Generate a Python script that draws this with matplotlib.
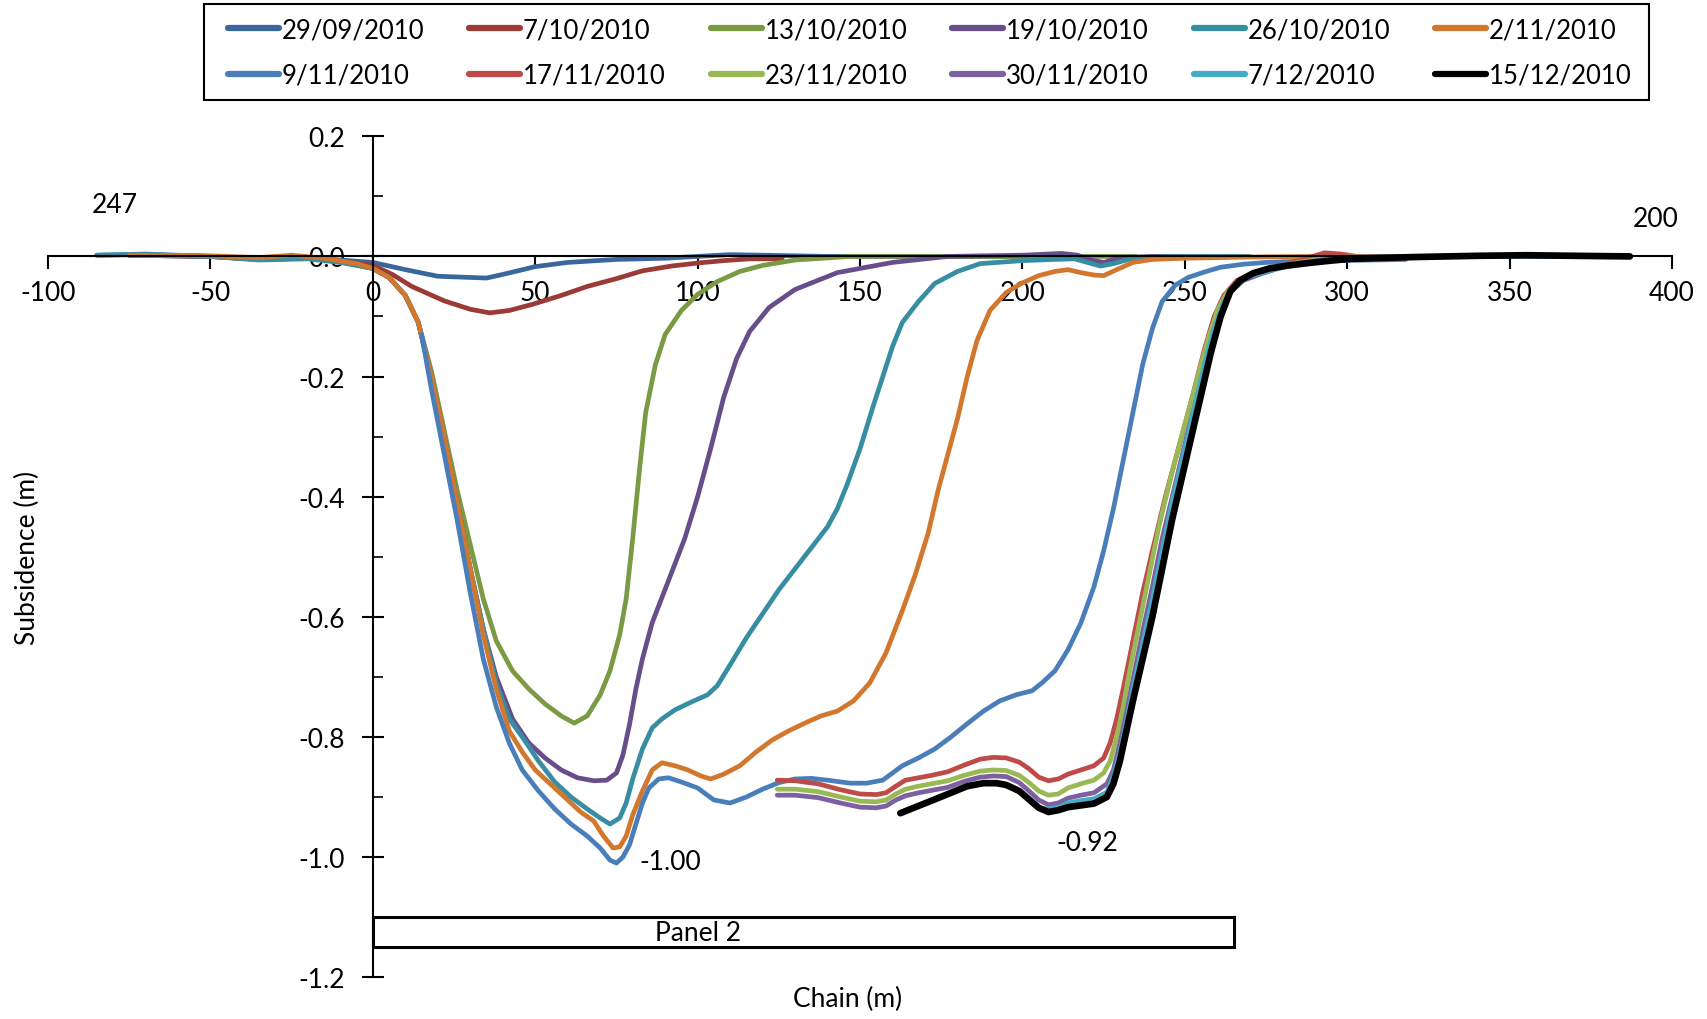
import matplotlib.pyplot as plt
from matplotlib.patches import Rectangle

plt.rcParams["font.family"] = ["Lato", "DejaVu Sans"]

labels = ["29/09/2010", "7/10/2010", "13/10/2010", "19/10/2010", "26/10/2010", "2/11/2010",
          "9/11/2010", "17/11/2010", "23/11/2010", "30/11/2010", "7/12/2010", "15/12/2010"]
colors = ["#3A669E", "#9C3A37", "#7A9A44", "#674E8A", "#378EA3", "#D2772E",
          "#4A7EBB", "#BE4B48", "#98B954", "#7D60A0", "#46AAC5", "#000000"]

# (chain, subsidence) pairs
s_2909 = [(-85, 0.002), (-70, 0.003), (-50, 0.0), (-35, -0.004), (-20, -0.002), (-10, -0.006),
          (0, -0.01), (10, -0.022), (20, -0.033), (30, -0.035), (35, -0.036), (40, -0.03),
          (50, -0.017), (60, -0.01), (75, -0.005), (90, -0.003), (110, 0.003), (120, 0.002),
          (140, 0.0), (170, 0.0), (200, 0.0)]
s_0710 = [(-75, 0.002), (-50, 0.0), (-35, -0.005), (-20, -0.003), (-10, -0.008), (0, -0.015),
          (6, -0.03), (12, -0.05), (22, -0.074), (30, -0.088), (36, -0.094), (42, -0.09),
          (49, -0.08), (58, -0.065), (66, -0.05), (75, -0.037), (83, -0.024), (92, -0.016),
          (100, -0.011), (108, -0.007), (116, -0.004), (126, -0.004)]
s_1310 = [(-75, 0.002), (-50, 0.0), (-35, -0.005), (-20, -0.003), (-10, -0.008), (0, -0.02),
          (5, -0.035), (10, -0.065), (14, -0.11), (18, -0.19), (22, -0.29), (26, -0.39),
          (30, -0.48), (34, -0.57), (38, -0.64), (43, -0.69), (48, -0.72), (53, -0.745),
          (58, -0.765), (62, -0.777), (66, -0.765), (70, -0.73), (73, -0.69), (76, -0.63),
          (78, -0.57), (80, -0.47), (82, -0.36), (84, -0.26), (87, -0.18), (90, -0.13),
          (95, -0.09), (100, -0.063), (106, -0.042), (113, -0.025), (120, -0.015),
          (130, -0.006), (147, 0.0), (170, 0.0), (200, 0.0), (235, 0.0)]
s_1910 = [(-75, 0.002), (-50, 0.0), (-35, -0.005), (-20, -0.003), (-10, -0.008), (0, -0.02),
          (5, -0.035), (10, -0.065), (14, -0.11), (18, -0.2), (22, -0.3), (26, -0.41),
          (30, -0.52), (34, -0.62), (38, -0.7), (43, -0.77), (48, -0.81), (53, -0.835),
          (58, -0.855), (63, -0.868), (68, -0.873), (72, -0.872), (75, -0.86), (77, -0.83),
          (79, -0.78), (81, -0.72), (83, -0.67), (86, -0.61), (91, -0.54), (96, -0.47),
          (100, -0.4), (104, -0.32), (108, -0.235), (112, -0.17), (116, -0.125),
          (122, -0.085), (130, -0.055), (143, -0.027), (160, -0.01), (177, 0.0), (200, 0.002),
          (212, 0.005), (217, 0.002), (221, -0.006), (225, -0.01), (230, -0.002), (240, 0.0),
          (250, 0.0)]
s_2610 = [(-85, 0.002), (-70, 0.004), (-50, 0.0), (-35, -0.006), (-20, -0.004), (-10, -0.01),
          (0, -0.02), (5, -0.035), (10, -0.065), (14, -0.11), (18, -0.2), (22, -0.3),
          (26, -0.41), (30, -0.52), (34, -0.62), (38, -0.71), (42, -0.77), (46, -0.8),
          (51, -0.84), (56, -0.875), (61, -0.9), (66, -0.92), (70, -0.935), (73, -0.945),
          (76, -0.935), (78, -0.91), (80, -0.87), (83, -0.82), (86, -0.785), (89, -0.77),
          (93, -0.755), (98, -0.742), (103, -0.73), (106, -0.715), (110, -0.68),
          (115, -0.635), (120, -0.595), (125, -0.555), (130, -0.52), (135, -0.485),
          (140, -0.45), (143, -0.42), (146, -0.38), (150, -0.32), (154, -0.25), (157, -0.2),
          (160, -0.15), (163, -0.11), (168, -0.075), (173, -0.045), (180, -0.025),
          (187, -0.012), (200, -0.007), (210, -0.005), (216, -0.004), (220, -0.01),
          (224, -0.016), (228, -0.012), (234, -0.003), (245, 0.0), (270, 0.0)]
s_0211 = [(-75, 0.002), (-50, 0.001), (-35, -0.002), (-25, 0.002), (-15, -0.003), (-5, -0.012),
          (0, -0.02), (5, -0.035), (10, -0.065), (14, -0.11), (18, -0.2), (22, -0.3),
          (26, -0.41), (30, -0.52), (34, -0.63), (38, -0.72), (42, -0.79), (46, -0.825),
          (50, -0.855), (55, -0.88), (60, -0.905), (64, -0.925), (68, -0.94), (71, -0.965),
          (74, -0.985), (76, -0.983), (78, -0.965), (80, -0.93), (83, -0.89), (86, -0.855),
          (89, -0.843), (93, -0.848), (97, -0.855), (101, -0.865), (104, -0.87),
          (108, -0.862), (113, -0.848), (118, -0.825), (123, -0.805), (128, -0.79),
          (133, -0.777), (138, -0.765), (143, -0.757), (148, -0.74), (153, -0.71),
          (158, -0.66), (163, -0.59), (167, -0.53), (171, -0.46), (174, -0.39), (177, -0.33),
          (180, -0.27), (183, -0.2), (186, -0.14), (190, -0.09), (195, -0.06), (200, -0.044),
          (205, -0.032), (210, -0.025), (214, -0.022), (218, -0.027), (222, -0.031),
          (225, -0.032), (229, -0.022), (234, -0.01), (240, -0.005), (250, -0.003),
          (270, -0.001), (290, 0.0), (300, 0.0)]
s_0911 = [(15, -0.13), (18, -0.22), (22, -0.33), (26, -0.44), (30, -0.56), (34, -0.67),
          (38, -0.75), (42, -0.81), (46, -0.855), (51, -0.89), (56, -0.92), (61, -0.945),
          (66, -0.965), (70, -0.985), (73, -1.005), (75, -1.01), (77, -1.0), (79, -0.98),
          (81, -0.945), (83, -0.91), (85, -0.885), (88, -0.87), (91, -0.868), (95, -0.875),
          (100, -0.885), (105, -0.905), (110, -0.91), (115, -0.9), (120, -0.887),
          (125, -0.876), (130, -0.87), (135, -0.869), (140, -0.872), (147, -0.877),
          (152, -0.877), (157, -0.872), (160, -0.86), (163, -0.848), (168, -0.835),
          (173, -0.82), (178, -0.8), (183, -0.778), (188, -0.757), (193, -0.74),
          (198, -0.73), (203, -0.723), (206, -0.71), (210, -0.69), (214, -0.655),
          (218, -0.61), (222, -0.55), (225, -0.49), (228, -0.42), (231, -0.34), (234, -0.26),
          (237, -0.18), (240, -0.12), (243, -0.075), (247, -0.048), (251, -0.035),
          (256, -0.026), (261, -0.018), (268, -0.013), (275, -0.01), (285, -0.008),
          (298, -0.007), (318, -0.005)]
s_1711 = [(124.5, -0.872), (130, -0.873), (137, -0.878), (144, -0.888), (150, -0.895),
          (155, -0.896), (158, -0.893), (161, -0.882), (164, -0.872), (168, -0.868),
          (172, -0.864), (177, -0.858), (182, -0.847), (187, -0.837), (191, -0.834),
          (195, -0.835), (199, -0.842), (202, -0.853), (205, -0.867), (208, -0.873),
          (211, -0.87), (214, -0.862), (218, -0.855), (222, -0.848), (225, -0.835),
          (227, -0.81), (229, -0.77), (231, -0.72), (234, -0.64), (237, -0.56), (240, -0.49),
          (244, -0.4), (248, -0.32), (252, -0.24), (256, -0.155), (259, -0.1), (262, -0.065),
          (266, -0.04), (270, -0.03), (276, -0.021), (282, -0.012), (288, -0.002),
          (293, 0.006), (298, 0.004), (303, 0.0), (320, 0.0), (350, 0.0), (387, 0.0)]
s_2311 = [(124.5, -0.887), (130, -0.887), (137, -0.891), (144, -0.9), (150, -0.907),
          (155, -0.908), (158, -0.905), (161, -0.895), (164, -0.887), (168, -0.882),
          (172, -0.878), (177, -0.873), (182, -0.864), (187, -0.857), (191, -0.855),
          (195, -0.856), (199, -0.864), (202, -0.876), (205, -0.89), (208, -0.897),
          (211, -0.895), (214, -0.885), (218, -0.878), (222, -0.872), (225, -0.86),
          (227, -0.84), (229, -0.8), (231, -0.75), (233, -0.69), (236, -0.61), (239, -0.53),
          (242, -0.45), (246, -0.36), (250, -0.28), (254, -0.2), (257, -0.14), (260, -0.09),
          (263, -0.06), (267, -0.04), (272, -0.028), (278, -0.018), (285, -0.01),
          (292, -0.004), (300, -0.001), (320, 0.0), (350, 0.0), (387, 0.0)]
s_3011 = [(124.5, -0.897), (130, -0.897), (137, -0.901), (144, -0.91), (150, -0.917),
          (155, -0.918), (158, -0.915), (161, -0.905), (164, -0.898), (168, -0.893),
          (172, -0.889), (177, -0.884), (182, -0.874), (187, -0.867), (191, -0.865),
          (195, -0.866), (199, -0.876), (202, -0.89), (205, -0.905), (208, -0.913),
          (211, -0.91), (214, -0.902), (218, -0.897), (222, -0.893), (226, -0.878),
          (228, -0.855), (230, -0.81), (232, -0.76), (234, -0.705), (237, -0.625),
          (240, -0.55), (243, -0.47), (247, -0.38), (251, -0.29), (255, -0.21), (258, -0.15),
          (261, -0.095), (264, -0.06), (268, -0.04), (274, -0.028), (280, -0.018),
          (287, -0.01), (295, -0.004), (305, -0.001), (320, 0.0), (350, 0.0), (387, 0.0)]
s_0712 = [(205, -0.918), (208, -0.92), (211, -0.917), (214, -0.91), (218, -0.906),
          (222, -0.903), (226, -0.892), (228, -0.865), (230, -0.825), (232, -0.775),
          (234, -0.72), (237, -0.645), (240, -0.57), (243, -0.49), (246, -0.41),
          (250, -0.32), (253, -0.25), (256, -0.18), (259, -0.12), (262, -0.075),
          (265, -0.05), (269, -0.035), (275, -0.025), (281, -0.017), (288, -0.01),
          (295, -0.005), (305, -0.002), (320, 0.0), (350, 0.0), (387, 0.0)]
s_1512 = [(162.4, -0.927), (167, -0.917), (173, -0.904), (178, -0.893), (183, -0.882),
          (188, -0.877), (192, -0.877), (195, -0.88), (199, -0.89), (202, -0.904),
          (205, -0.918), (208, -0.925), (211, -0.922), (214, -0.917), (218, -0.914),
          (222, -0.911), (226, -0.9), (228, -0.878), (230, -0.84), (232, -0.79),
          (234, -0.74), (237, -0.67), (240, -0.6), (243, -0.52), (246, -0.44),
          (249, -0.37), (252, -0.3), (255, -0.23), (258, -0.16), (261, -0.1),
          (264, -0.058), (267, -0.04), (271, -0.028), (276, -0.02), (282, -0.015),
          (288, -0.011), (295, -0.007), (301, -0.004), (321, -0.001), (340, 0.001),
          (355, 0.002), (370, 0.001), (387, 0.0)]
series = [s_2909, s_0710, s_1310, s_1910, s_2610, s_0211,
          s_0911, s_1711, s_2311, s_3011, s_0712, s_1512]

xticks = [-100, -50, 0, 50, 100, 150, 200, 250, 300, 350, 400]
yticks = [0.2, 0.0, -0.2, -0.4, -0.6, -0.8, -1.0, -1.2]
ytick_labels = ["0.2", "0.0", "-0.2", "-0.4", "-0.6", "-0.8", "-1.0", "-1.2"]
yminor = [0.1, -0.1, -0.3, -0.5, -0.7, -0.9, -1.1]

notes = [(-79.5, 0.087, "247"), (395, 0.063, "200"),
         (91.6, -1.007, "-1.00"), (220, -0.976, "-0.92")]
panel = (0, 265, -1.15, -1.10, "Panel 2")

fig = plt.figure(figsize=(17.08, 10.2), dpi=100)
ax = fig.add_axes([0.0281, 0.041, 0.9509, 0.8244])

handles = []
for pts, lab, col in zip(series, labels, colors):
    xs = [p[0] for p in pts]
    ys = [p[1] for p in pts]
    lw = 4.8 if col == "#000000" else 3.4
    h, = ax.plot(xs, ys, color=col, lw=lw, label=lab,
                 solid_joinstyle="round", solid_capstyle="round")
    handles.append(h)

ax.set_xlim(-100, 400)
ax.set_ylim(-1.2, 0.2)
ax.spines["left"].set_position(("data", 0))
ax.spines["bottom"].set_position(("data", 0))
ax.spines["top"].set_visible(False)
ax.spines["right"].set_visible(False)
for s in ("left", "bottom"):
    ax.spines[s].set_linewidth(1.5)

ax.set_xticks(xticks)
ax.set_xticklabels([str(v) for v in xticks])
ax.set_yticks(yticks)
ax.set_yticklabels(ytick_labels)
ax.set_yticks(yminor, minor=True)
ax.tick_params(axis="x", direction="out", length=9, width=1.5, labelsize=19, pad=8)
ax.tick_params(axis="y", which="major", direction="inout", length=16, width=1.5,
               labelsize=19, pad=12)
ax.tick_params(axis="y", which="minor", direction="in", length=7, width=1.2)

for x, y, t in notes:
    ax.text(x, y, t, fontsize=19, ha="center", va="center")

x0, x1, y0, y1, ptxt = panel
ax.add_patch(Rectangle((x0, y0), x1 - x0, y1 - y0, facecolor="white",
                       edgecolor="black", lw=2.2, clip_on=False, zorder=3))
ax.text(100, (y0 + y1) / 2, ptxt, fontsize=19, ha="center", va="center", zorder=4)

fig.text(0.016, 0.453, "Subsidence (m)", rotation=90, fontsize=19,
         ha="center", va="center")
fig.text(0.496, 0.02, "Chain (m)", fontsize=19, ha="center", va="center")

# legend box drawn separately, entries laid out row by row inside it
fig.patches.append(Rectangle((0.1193, 0.9007), 0.846, 0.094, transform=fig.transFigure,
                             fill=False, edgecolor="black", lw=1.5))
order = [0, 6, 1, 7, 2, 8, 3, 9, 4, 10, 5, 11]
leg = fig.legend([handles[i] for i in order], [labels[i] for i in order],
                 ncol=6, loc="center", bbox_to_anchor=(0.1333, 0.9007, 0.822, 0.094),
                 mode="expand", fontsize=18.5, handlelength=2.0, handletextpad=0.1,
                 borderaxespad=0, frameon=False, labelspacing=0.8, borderpad=0,
                 columnspacing=1.0)
for ln in leg.get_lines():
    ln.set_linewidth(4.5)

fig.savefig("out.png", dpi=100)
